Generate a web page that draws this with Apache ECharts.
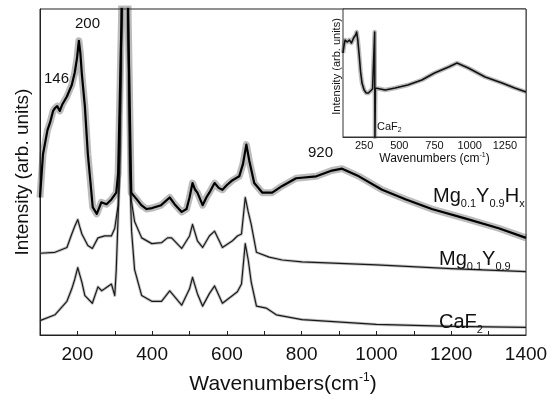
<!DOCTYPE html>
<html><head><meta charset="utf-8">
<script src="https://cdn.jsdelivr.net/npm/echarts@6/dist/echarts.min.js"></script>
<style>html,body{margin:0;padding:0;background:#fff}#c{width:552px;height:401px}</style>
</head><body><div id="c"></div>
<script>
// ---- data ----
const mainTickLabels = [200, 400, 600, 800, 1000, 1200, 1400];
const mainTicks = [200, 300, 400, 500, 600, 700, 800, 900, 1000, 1100, 1200, 1300];
const insetTickLabels = [250, 500, 750, 1000, 1250];
const insetTicks = [125, 250, 375, 500, 625, 750, 875, 1000, 1125, 1250, 1375];

const hxWave = [100,108,120,127,135,140,146,153,160,172,185,193,199,204,208,212,220,228,234,241,252,264,278,291,304,309,313,318,327,336,340,344,359,371,385,400,424,447,460,479,492,500,508,515,521,535,545,553,567,578,588,600,615,633,643,652,660,673,695,721,748,785,839,881,908,953,1015,1079,1148,1239,1327,1400];
const hxIntensity = [143,188,213,221,233,236,238,233,240,248,260,273,288,306,293,271,238,188,163,133,126,138,136,141,148,168,238,328,598,328,238,148,141,135,131,132,135,143,136,128,131,143,158,151,148,135,143,148,158,153,151,156,161,165,178,198,181,158,148,148,155,163,165,171,173,165,151,141,131,121,111,101];

const myWave = [100,140,172,185,193,201,206,212,228,240,255,273,291,300,309,314,319,327,335,340,344,353,372,399,425,441,452,479,500,508,521,535,553,567,588,615,628,639,649,657,665,679,713,748,801,1000,1200,1400];
const myIntensity = [85,86,91,105,113,120,113,105,93,90,101,103,103,111,135,198,328,598,328,198,141,118,101,95,96,101,101,90,103,115,98,91,103,108,91,98,103,105,143,128,115,86,81,78,76,73,69,66];

const cafWave = [100,140,172,185,193,201,206,212,220,240,255,265,273,291,300,304,313,319,327,335,340,345,353,372,399,425,447,479,500,508,521,535,553,567,588,615,628,639,649,657,665,679,705,732,801,1000,1200,1400];
const cafIntensity = [15,21,35,48,58,70,63,55,41,33,50,46,48,53,41,68,168,339,598,339,168,108,68,41,35,35,46,31,48,60,43,30,43,51,33,41,45,53,95,78,55,30,28,21,16,11,9,8];

const insetWave = [100,108,115,130,145,160,175,190,197,205,215,225,235,250,265,280,295,310,322,325,327,330,340,400,470,560,660,750,850,910,990,1110,1230,1320,1400];
const insetIntensity = [84,92,97,95,97,94,99,102,105,97,82,65,54,47,44,44,46,48,49,105,0,49,49,47,49,52,57,64,70,74,69,60,54,49,45];

// ---- build ----
const zip = (xs, ys) => xs.map((x, i) => [x, ys[i]]);
const FONT = 'Liberation Sans, Arial, sans-serif';
const chart = echarts.init(document.getElementById('c'), null, {renderer: 'canvas'});
const plain = v => String(v);

function lineSeries(xi, yi, data, color, width, z) {
  return {type: 'line', xAxisIndex: xi, yAxisIndex: yi, data: data, showSymbol: false,
    symbol: 'none', clip: true, z: z, silent: true, animation: false,
    lineStyle: {color: color, width: width, join: 'round'}};
}

const option = {
  animation: false,
  backgroundColor: '#fff',
  textStyle: {fontFamily: FONT, color: '#111'},
  grid: [
    {left: 40, top: 9, right: 26, bottom: 53, show: true, borderColor: '#222', borderWidth: 1, containLabel: false},
    {left: 343, top: 9, right: 26, height: 128, show: true, borderColor: '#333', borderWidth: 1, backgroundColor: '#fff', containLabel: false, z: 5}
  ],
  xAxis: [
    {type: 'value', gridIndex: 0, min: 100, max: 1400, interval: 100,
      axisLine: {show: true, lineStyle: {color: '#222', width: 1}},
      axisTick: {show: true, inside: true, length: 4, customValues: mainTicks, lineStyle: {color: '#222'}},
      axisLabel: {show: true, customValues: mainTickLabels, formatter: plain, fontSize: 19, color: '#111', margin: 10, fontFamily: FONT},
      splitLine: {show: false},
      name: 'Wavenumbers(cm{sup|-1})', nameLocation: 'middle', nameGap: 37,
      nameTextStyle: {fontSize: 21, color: '#111', fontFamily: FONT, lineHeight: 24,
        rich: {sup: {fontSize: 12, verticalAlign: 'top', lineHeight: 24, fontFamily: FONT, color: '#111'}}}},
    {type: 'value', gridIndex: 1, min: 100, max: 1400, interval: 125,
      axisLine: {show: true, lineStyle: {color: '#333', width: 1}},
      axisTick: {show: true, inside: true, length: 2.5, customValues: insetTicks, lineStyle: {color: '#333'}},
      axisLabel: {show: true, customValues: insetTickLabels, formatter: plain, fontSize: 11, color: '#111', margin: 3, fontFamily: FONT},
      splitLine: {show: false},
      name: 'Wavenumbers (cm{sup|-1})', nameLocation: 'middle', nameGap: 14,
      nameTextStyle: {fontSize: 12, color: '#111', fontFamily: FONT, lineHeight: 13,
        rich: {sup: {fontSize: 7, verticalAlign: 'top', lineHeight: 13, fontFamily: FONT, color: '#111'}}}}
  ],
  yAxis: [
    {type: 'value', gridIndex: 0, min: 0, max: 339,
      axisLine: {show: true, lineStyle: {color: '#222', width: 1}},
      axisTick: {show: false}, axisLabel: {show: false}, splitLine: {show: false},
      name: 'Intensity (arb. units)', nameLocation: 'middle', nameGap: 8,
      nameTextStyle: {fontSize: 19, color: '#111', fontFamily: FONT}},
    {type: 'value', gridIndex: 1, min: 0, max: 128,
      axisLine: {show: true, lineStyle: {color: '#333', width: 1}},
      axisTick: {show: false}, axisLabel: {show: false}, splitLine: {show: false},
      name: 'Intensity (arb. units)', nameLocation: 'middle', nameGap: 1,
      nameTextStyle: {fontSize: 11, color: '#111', fontFamily: FONT, padding: [0, 0, 0, 13]}}
  ],
  series: [
    lineSeries(0, 0, zip(cafWave, cafIntensity), 'rgba(110,110,110,0.4)', 3, 2),
    lineSeries(0, 0, zip(cafWave, cafIntensity), '#1a1a1a', 1.2, 3),
    lineSeries(0, 0, zip(myWave, myIntensity), 'rgba(110,110,110,0.4)', 3, 2),
    lineSeries(0, 0, zip(myWave, myIntensity), '#1a1a1a', 1.2, 3),
    lineSeries(0, 0, zip(hxWave, hxIntensity), 'rgba(60,60,60,0.35)', 7, 2),
    lineSeries(0, 0, zip(hxWave, hxIntensity), '#000', 2.2, 3),
    lineSeries(1, 1, zip(insetWave, insetIntensity), 'rgba(60,60,60,0.35)', 4.5, 6),
    lineSeries(1, 1, zip(insetWave, insetIntensity), '#111', 1.6, 7)
  ],
  graphic: [
    {type: 'text', left: 75, top: 16, z: 10, style: {text: '200', fontSize: 15, fontFamily: FONT, fill: '#111'}},
    {type: 'text', left: 44, top: 71, z: 10, style: {text: '146', fontSize: 15, fontFamily: FONT, fill: '#111'}},
    {type: 'text', left: 308, top: 145, z: 10, style: {text: '920', fontSize: 15, fontFamily: FONT, fill: '#111'}},
    {type: 'text', left: 433, top: 183, z: 10, style: {
      text: 'Mg{sub|0.1}Y{sub|0.9}H{sub|x}', fontSize: 20, fontFamily: FONT, fill: '#111', lineHeight: 26,
      rich: {sub: {fontSize: 11, verticalAlign: 'bottom', lineHeight: 26, fontFamily: FONT, fill: '#111'}}}},
    {type: 'text', left: 439, top: 246, z: 10, style: {
      text: 'Mg{sub|0.1}Y{sub|0.9}', fontSize: 20, fontFamily: FONT, fill: '#111', lineHeight: 26,
      rich: {sub: {fontSize: 11, verticalAlign: 'bottom', lineHeight: 26, fontFamily: FONT, fill: '#111'}}}},
    {type: 'text', left: 439, top: 309, z: 10, style: {
      text: 'CaF{sub|2}', fontSize: 20, fontFamily: FONT, fill: '#111', lineHeight: 26,
      rich: {sub: {fontSize: 11, verticalAlign: 'bottom', lineHeight: 26, fontFamily: FONT, fill: '#111'}}}},
    {type: 'text', left: 377, top: 119, z: 20, style: {
      text: 'CaF{sub|2}', fontSize: 11, fontFamily: FONT, fill: '#111', lineHeight: 15,
      rich: {sub: {fontSize: 7, verticalAlign: 'bottom', lineHeight: 15, fontFamily: FONT, fill: '#111'}}}}
  ]
};
chart.setOption(option);
</script>
</body></html>
